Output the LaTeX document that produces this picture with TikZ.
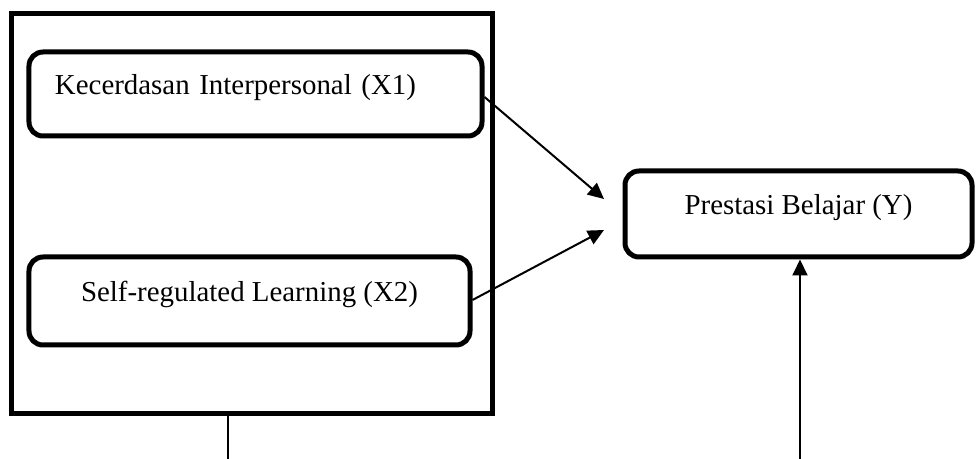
\documentclass[tikz,border=0pt]{standalone}
\usepackage{fontspec}
\setmainfont{Liberation Serif}
\usetikzlibrary{arrows.meta, calc}

\begin{document}
\begin{tikzpicture}[x=1bp, y=-1bp,
        varbox/.style={draw, line width=5bp, rounded corners=14bp, inner sep=0bp,
            text height=20bp, text depth=19bp, font=\fontsize{29}{34}\selectfont},
        link/.style={line width=2bp, -{Triangle[length=16bp, width=15bp]}}]
            \useasboundingbox (0,0) rectangle (979,459);
            \node[draw, line width=5bp, minimum width=480bp, minimum height=399bp,
                inner sep=0bp] (frame) at (252,213.5) {};
            \node[varbox, minimum width=453bp, minimum height=84bp, text width=401bp,
                align=left] (x1) at (255.5,94) {Kecerdasan Interpersonal (X1)};
            \node[varbox, minimum width=441bp, minimum height=88bp]
                (x2) at (249.5,301) {Self-regulated Learning (X2)};
            \node[varbox, minimum width=347bp, minimum height=86bp]
                (y) at (798.5,214) {Prestasi Belajar (Y)};
            \coordinate (tip1) at (604,199);
            \coordinate (tip2) at (604,230);
            \coordinate (bot1) at (228,459);
            \coordinate (bot2) at (800,459);
            \draw[link] ($(x1.east)+(0,3)$) -- (tip1);
            \draw[link] ($(x2.east)+(0,-1)$) -- (tip2);
            \draw[line width=2bp] (frame.south -| bot1) -- (bot1);
            \draw[link] (bot2) -- (y.south -| bot2);
        \end{tikzpicture}
\end{document}
